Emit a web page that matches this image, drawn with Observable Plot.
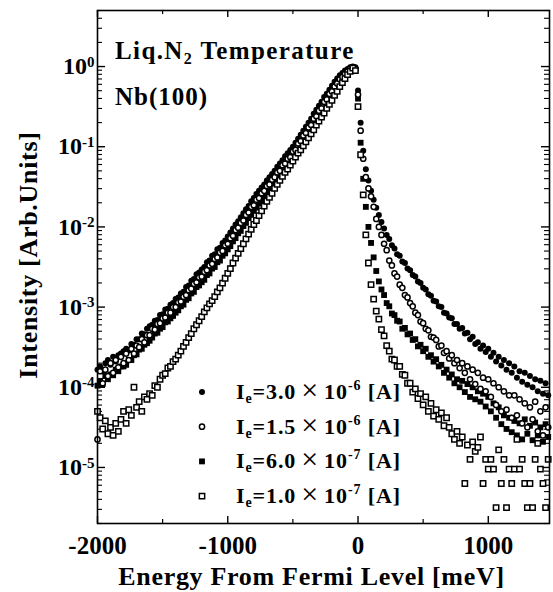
<!DOCTYPE html>
<html><head><meta charset="utf-8">
<script src="https://cdn.jsdelivr.net/npm/d3@7"></script>
<script src="https://cdn.jsdelivr.net/npm/@observablehq/plot@0.6"></script>
<style>body{margin:0;background:#fff;}</style>
</head><body><div id="chart"></div>
<script>
// Energy from Fermi level (meV)
const energy = [
-2000,-1980,-1960,-1940,-1920,-1900,-1880,-1860,-1840,-1820,
-1800,-1780,-1760,-1740,-1720,-1700,-1680,-1660,-1640,-1620,
-1600,-1580,-1560,-1540,-1520,-1500,-1480,-1460,-1440,-1420,
-1400,-1380,-1360,-1340,-1320,-1300,-1280,-1260,-1240,-1220,
-1200,-1180,-1160,-1140,-1120,-1100,-1080,-1060,-1040,-1020,
-1000,-980,-960,-940,-920,-900,-880,-860,-840,-820,
-800,-780,-760,-740,-720,-700,-680,-660,-640,-620,
-600,-580,-560,-540,-520,-500,-480,-460,-440,-420,
-400,-380,-360,-340,-320,-300,-280,-260,-240,-220,
-200,-180,-160,-140,-120,-100,-80,-60,-40,-20,
0,20,40,60,80,100,120,140,160,180,
200,220,240,260,280,300,320,340,360,380,
400,420,440,460,480,500,520,540,560,580,
600,620,640,660,680,700,720,740,760,780,
800,820,840,860,880,900,920,940,960,980,
1000,1020,1040,1060,1080,1100,1120,1140,1160,1180,
1200,1220,1240,1260,1280,1300,1320,1340,1360,1380,
1400,1420,1440,1460];

// log10 of intensity (Arb. Units), Ie = 3.0e-6 A (filled circles)
const log10I_Ie3p0e6 = [
-3.78,-3.74,-3.80,-3.70,-3.66,-3.72,-3.62,-3.68,-3.60,-3.58,
-3.55,-3.52,-3.54,-3.46,-3.47,-3.40,-3.40,-3.33,-3.34,-3.27,
-3.24,-3.22,-3.17,-3.16,-3.10,-3.09,-3.03,-3.02,-2.97,-2.95,
-2.90,-2.88,-2.83,-2.81,-2.75,-2.73,-2.67,-2.65,-2.59,-2.57,
-2.53,-2.50,-2.44,-2.42,-2.36,-2.34,-2.28,-2.26,-2.20,-2.17,
-2.12,-2.07,-2.02,-1.97,-1.93,-1.88,-1.83,-1.78,-1.74,-1.68,
-1.64,-1.59,-1.55,-1.51,-1.47,-1.42,-1.38,-1.34,-1.30,-1.25,
-1.21,-1.17,-1.12,-1.08,-1.04,-1.00,-0.95,-0.90,-0.85,-0.80,
-0.75,-0.70,-0.65,-0.59,-0.54,-0.49,-0.44,-0.38,-0.34,-0.29,
-0.24,-0.19,-0.15,-0.11,-0.08,-0.05,-0.03,-0.01,0.00,-0.01,
-0.30,-0.70,-1.05,-1.28,-1.42,-1.55,-1.66,-1.76,-1.85,-1.94,
-2.02,-2.10,-2.15,-2.23,-2.27,-2.34,-2.36,-2.43,-2.45,-2.52,
-2.54,-2.60,-2.62,-2.68,-2.70,-2.76,-2.78,-2.84,-2.86,-2.92,
-2.93,-2.99,-3.00,-3.07,-3.08,-3.13,-3.14,-3.21,-3.21,-3.27,
-3.26,-3.33,-3.32,-3.40,-3.37,-3.46,-3.44,-3.52,-3.48,-3.56,
-3.52,-3.62,-3.57,-3.68,-3.62,-3.73,-3.66,-3.78,-3.70,-3.82,
-3.74,-3.88,-3.80,-3.93,-3.82,-3.97,-3.86,-4.00,-3.90,-4.05,
-3.92,-4.08,-3.95,-4.10];

// Ie = 1.5e-6 A (open circles)
const log10I_Ie1p5e6 = [
-4.65,-3.80,-3.95,-3.78,-3.86,-3.70,-3.82,-3.66,-3.75,-3.62,
-3.70,-3.58,-3.66,-3.52,-3.58,-3.48,-3.50,-3.40,-3.44,-3.35,
-3.35,-3.27,-3.28,-3.21,-3.20,-3.14,-3.13,-3.07,-3.07,-3.00,
-3.00,-2.94,-2.93,-2.87,-2.85,-2.79,-2.77,-2.71,-2.69,-2.63,
-2.62,-2.56,-2.54,-2.48,-2.46,-2.40,-2.38,-2.32,-2.30,-2.23,
-2.21,-2.14,-2.11,-2.04,-2.01,-1.95,-1.92,-1.85,-1.82,-1.75,
-1.73,-1.66,-1.64,-1.58,-1.55,-1.49,-1.47,-1.41,-1.38,-1.32,
-1.30,-1.23,-1.21,-1.15,-1.13,-1.06,-1.04,-0.96,-0.93,-0.86,
-0.83,-0.76,-0.73,-0.65,-0.62,-0.55,-0.52,-0.44,-0.41,-0.34,
-0.31,-0.25,-0.21,-0.16,-0.13,-0.09,-0.06,-0.03,-0.01,-0.03,
-0.35,-0.80,-1.15,-1.38,-1.52,-1.62,-1.75,-1.90,-2.00,-2.10,
-2.21,-2.29,-2.42,-2.48,-2.58,-2.62,-2.72,-2.76,-2.85,-2.88,
-2.95,-2.99,-3.07,-3.10,-3.18,-3.20,-3.27,-3.29,-3.37,-3.38,
-3.41,-3.49,-3.48,-3.57,-3.55,-3.64,-3.60,-3.70,-3.66,-3.76,
-3.70,-3.82,-3.74,-3.90,-3.78,-3.96,-3.82,-4.02,-3.88,-4.05,
-3.90,-4.12,-3.95,-4.22,-4.00,-4.30,-4.05,-4.28,-4.10,-4.38,
-4.10,-4.35,-4.15,-4.45,-4.20,-4.50,-4.25,-4.40,-4.18,-4.55,
-4.30,-4.60,-4.25,-4.50];

// Ie = 6.0e-7 A (filled squares)
const log10I_Ie6p0e7 = [
-3.98,-3.92,-3.96,-3.86,-3.90,-3.84,-3.85,-3.78,-3.80,-3.74,
-3.74,-3.72,-3.66,-3.66,-3.60,-3.59,-3.53,-3.52,-3.47,-3.45,
-3.42,-3.38,-3.33,-3.32,-3.27,-3.25,-3.19,-3.18,-3.14,-3.11,
-3.07,-3.04,-2.99,-2.97,-2.91,-2.89,-2.83,-2.81,-2.75,-2.73,
-2.69,-2.66,-2.60,-2.58,-2.52,-2.50,-2.44,-2.42,-2.36,-2.33,
-2.28,-2.24,-2.18,-2.14,-2.08,-2.05,-1.99,-1.95,-1.89,-1.85,
-1.80,-1.76,-1.71,-1.68,-1.62,-1.59,-1.54,-1.51,-1.45,-1.42,
-1.37,-1.33,-1.28,-1.25,-1.20,-1.16,-1.11,-1.06,-1.00,-0.96,
-0.89,-0.85,-0.79,-0.74,-0.68,-0.64,-0.58,-0.53,-0.47,-0.43,
-0.37,-0.32,-0.27,-0.22,-0.17,-0.12,-0.08,-0.05,-0.01,-0.04,
-0.40,-0.95,-1.40,-1.75,-2.00,-2.20,-2.38,-2.55,-2.68,-2.78,
-2.85,-2.95,-2.99,-3.08,-3.10,-3.17,-3.18,-3.27,-3.26,-3.34,
-3.33,-3.41,-3.40,-3.49,-3.47,-3.55,-3.52,-3.62,-3.60,-3.68,
-3.65,-3.74,-3.72,-3.82,-3.78,-3.88,-3.84,-3.95,-3.90,-4.00,
-3.92,-4.06,-3.96,-4.12,-4.00,-4.15,-4.05,-4.18,-4.08,-4.24,
-4.12,-4.30,-4.20,-4.38,-4.25,-4.46,-4.35,-4.52,-4.38,-4.56,
-4.42,-4.60,-4.45,-4.65,-4.40,-4.58,-4.48,-4.66,-4.44,-4.60,
-4.50,-4.68,-4.46,-4.62];

// Ie = 1.0e-7 A (open squares)
const log10I_Ie1p0e7 = [
-4.30,-4.38,-4.52,-4.42,-4.58,-4.50,-4.60,-4.45,-4.55,-4.40,
-4.30,-4.45,-4.28,-4.35,-4.00,-4.25,-4.18,-4.30,-4.12,-4.15,
-4.08,-4.10,-3.98,-4.00,-3.90,-3.85,-3.83,-3.76,-3.74,-3.68,
-3.65,-3.60,-3.55,-3.49,-3.44,-3.38,-3.33,-3.27,-3.22,-3.17,
-3.12,-3.06,-3.01,-2.96,-2.92,-2.87,-2.81,-2.76,-2.70,-2.64,
-2.58,-2.52,-2.45,-2.39,-2.33,-2.27,-2.21,-2.15,-2.09,-2.03,
-1.97,-1.92,-1.86,-1.80,-1.74,-1.68,-1.63,-1.58,-1.52,-1.47,
-1.42,-1.37,-1.32,-1.28,-1.23,-1.18,-1.13,-1.08,-1.04,-0.99,
-0.94,-0.89,-0.84,-0.79,-0.73,-0.68,-0.63,-0.58,-0.52,-0.47,
-0.42,-0.36,-0.31,-0.25,-0.20,-0.15,-0.10,-0.06,-0.02,-0.05,
-0.50,-1.10,-1.60,-2.10,-2.45,-2.72,-2.90,-3.05,-3.15,-3.28,
-3.36,-3.48,-3.55,-3.65,-3.66,-3.74,-3.74,-3.84,-3.85,-3.95,
-3.95,-4.06,-4.02,-4.14,-4.08,-4.22,-4.12,-4.30,-4.20,-4.36,
-4.28,-4.40,-4.32,-4.48,-4.38,-4.50,-4.58,-4.65,-4.55,-4.70,
-4.62,-5.20,-4.72,-4.90,-4.68,-4.80,-4.75,-4.62,-5.20,-4.90,
-5.02,-4.90,-5.02,-5.50,-4.78,-5.20,-4.90,-5.50,-5.02,-5.20,
-5.02,-4.65,-5.02,-4.90,-5.20,-5.50,-5.20,-5.50,-4.90,-4.70,
-5.02,-5.20,-5.50,-4.90];

// Legend entries (emission current)
const legendMantissa = ["3.0", "1.5", "6.0", "1.0"];
const legendExponent = ["-6", "-6", "-7", "-7"];

// Axis ticks
const xTickValues = [-2000, -1000, 0, 1000];
const xMinorTicks = [-1500, -500, 500];
const yTickValues = [1e-5, 1e-4, 1e-3, 1e-2, 1e-1, 1];
const yTickExponents = ["-5", "-4", "-3", "-2", "-1", "0"];
const yMinorTicks = [1e-6,1e-5,1e-4,1e-3,1e-2,1e-1,1]
  .flatMap(d => [2,3,4,5,6,7,8,9].map(m => m * d))
  .filter(v => v >= 2e-6 && v <= 5.0001);

const xTitle = "Energy From Fermi Level [meV]";
const yTitle = "Intensity [Arb.Units]";

// marker styles (separate from data)
const styles = [
  {symbol: "circle", r: 3.0, fill: "black", stroke: "none", strokeWidth: 0},
  {symbol: "circle", r: 2.6, fill: "white", stroke: "black", strokeWidth: 1.5},
  {symbol: "square", r: 3.3, fill: "black", stroke: "none", strokeWidth: 0},
  {symbol: "square", r: 3.0, fill: "white", stroke: "black", strokeWidth: 1.5}
];
const seriesValues = [log10I_Ie3p0e6, log10I_Ie1p5e6, log10I_Ie6p0e7, log10I_Ie1p0e7];
const tables = seriesValues.map(vals => energy.map((E, i) => ({E, I: Math.pow(10, vals[i])})));

const W = 553, H = 592, mL = 97, mR = 4, mT = 10, mB = 69;
const pw = W - mL - mR, ph = H - mT - mB;
const FONT = "'Liberation Serif','Times New Roman',Times,serif";

const drawOrder = [0, 2, 1, 3];
const plot = Plot.plot({
  width: W, height: H,
  marginLeft: mL, marginRight: mR, marginTop: mT, marginBottom: mB,
  x: {domain: [-2000, 1470]},
  y: {type: "log", domain: [2e-6, 5]},
  style: {fontFamily: FONT, fontWeight: "bold", fontSize: "25px", background: "white", color: "black"},
  marks: [
    Plot.ruleX(xTickValues, {x: d => d, insetTop: ph - 7, stroke: "black", strokeWidth: 1.4}),
    Plot.ruleX(xMinorTicks, {x: d => d, insetTop: ph - 4, stroke: "black", strokeWidth: 1.2}),
    Plot.ruleX(xTickValues, {x: d => d, insetBottom: ph - 7, stroke: "black", strokeWidth: 1.4}),
    Plot.ruleX(xMinorTicks, {x: d => d, insetBottom: ph - 4, stroke: "black", strokeWidth: 1.2}),
    Plot.ruleY(yTickValues, {y: d => d, insetRight: pw - 8, stroke: "black", strokeWidth: 1.4}),
    Plot.ruleY(yMinorTicks, {y: d => d, insetRight: pw - 5, stroke: "black", strokeWidth: 1.1}),
    Plot.ruleY(yTickValues, {y: d => d, insetLeft: pw - 8, stroke: "black", strokeWidth: 1.4}),
    Plot.ruleY(yMinorTicks, {y: d => d, insetLeft: pw - 5, stroke: "black", strokeWidth: 1.1}),
    ...drawOrder.map(k => Plot.dot(tables[k], {x: "E", y: "I", ...styles[k]})),
    Plot.frame({stroke: "black", strokeWidth: 1.6}),
    Plot.axisX({ticks: xTickValues, tickSize: 0, tickPadding: 13, tickFormat: d => String(d), label: null, fontSize: 25}),
    Plot.axisY({ticks: yTickValues, tickSize: 0, tickPadding: 3,
      tickFormat: d => "10^" + yTickExponents[yTickValues.indexOf(d)], label: null, fontSize: 24}),
    Plot.text([xTitle], {frameAnchor: "bottom", text: d => d, dx: -12, dy: 61, lineAnchor: "bottom", textAnchor: "middle", fontSize: 26}),
    Plot.text([yTitle], {frameAnchor: "left", text: d => d, rotate: -90, dx: -69, dy: -12, lineAnchor: "middle", textAnchor: "middle", fontSize: 26})
  ]
});

const ns = "http://www.w3.org/2000/svg";
plot.querySelectorAll('g[aria-label="y-axis tick label"] text').forEach(t => {
  const parts = t.textContent.split("^");
  t.textContent = parts[0];
  const ts = document.createElementNS(ns, "tspan");
  ts.setAttribute("dy", "-0.5em");
  ts.setAttribute("font-size", "15px");
  ts.textContent = parts[1];
  t.appendChild(ts);
});
plot.querySelectorAll('g[aria-label="text"] text').forEach(t => t.setAttribute("letter-spacing", "0.7px"));

const svg = d3.select(plot);
const g = svg.append("g").attr("font-family", FONT).attr("font-weight", "bold")
  .attr("fill", "black").attr("text-anchor", "start");

// annotations
const t1 = g.append("text").attr("x", 115).attr("y", 59).attr("font-size", 25).attr("letter-spacing", "1.4px");
t1.append("tspan").text("Liq.N");
t1.append("tspan").attr("font-size", 16).attr("dy", 5).text("2");
t1.append("tspan").attr("dy", -5).text(" Temperature");
g.append("text").attr("x", 115).attr("y", 105).attr("font-size", 25).attr("letter-spacing", "1px").text("Nb(100)");

// legend
const symGen = [d3.symbolCircle, d3.symbolCircle, d3.symbolSquare, d3.symbolSquare];
legendMantissa.forEach((m, i) => {
  const base = 399 + 34.7 * i;
  const st = styles[i];
  g.append("path")
    .attr("d", d3.symbol(symGen[i], Math.PI * st.r * st.r)())
    .attr("transform", `translate(202,${base - 7})`)
    .attr("fill", st.fill).attr("stroke", st.stroke).attr("stroke-width", st.strokeWidth);
  const t = g.append("text").attr("x", 236).attr("y", base).attr("font-size", 22).attr("letter-spacing", "0.9px");
  t.append("tspan").text("I");
  t.append("tspan").attr("font-size", 14).attr("dy", 4).text("e");
  t.append("tspan").attr("dy", -4).text("=" + m);
  t.append("tspan").attr("font-weight", "normal").attr("font-size", 30).attr("dx", 5).attr("dy", 1).text("\u00D7");
  t.append("tspan").attr("dx", 5).attr("dy", -1).text("10");
  t.append("tspan").attr("font-size", 14).attr("dy", -9).text(legendExponent[i]);
  t.append("tspan").attr("dy", 9).text(" [A]");
});

document.getElementById("chart").appendChild(plot);
</script>
</body></html>
